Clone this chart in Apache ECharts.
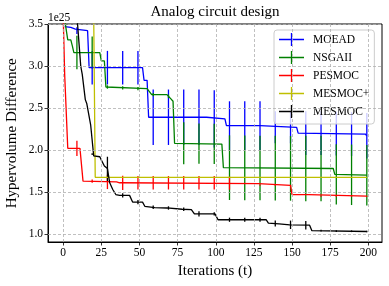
<!DOCTYPE html>
<html><head><meta charset="utf-8">
<script src="https://cdn.jsdelivr.net/npm/echarts@6/dist/echarts.min.js"></script>
<style>html,body{margin:0;padding:0;background:#fff}#c{width:389px;height:286px}</style>
</head><body><div id="c"></div>
<script>
// ---- data ----
const xTicks = [0, 25, 50, 75, 100, 125, 150, 175, 200];
const yTicks = [1.0, 1.5, 2.0, 2.5, 3.0, 3.5];
const names = ['MOEAD', 'NSGAII', 'PESMOC', 'MESMOC+', 'MESMOC'];
const errX = [9, 19, 29, 39, 49, 59, 69, 79, 89, 99, 109, 119, 129, 139, 149, 159, 169, 179, 189, 199];

const moeadX = [1, 5, 8, 9, 16, 17, 52, 53, 55, 56, 94, 95, 106, 107, 129, 130, 153, 154, 198, 199];
const moeadY = [3.47, 3.46, 3.44, 3.42, 3.42, 2.98, 2.98, 2.83, 2.83, 2.39, 2.39, 2.37, 2.37, 2.29, 2.29, 2.27, 2.27, 2.20, 2.19, 2.17];
const moeadM = [3.42, 2.98, 2.98, 2.98, 2.98, 2.39, 2.39, 2.39, 2.39, 2.37, 2.29, 2.29, 2.29, 2.27, 2.27, 2.20, 2.20, 2.195, 2.19, 2.17];
const moeadS = [0.04, 0.20, 0.20, 0.20, 0.20, 0.33, 0.33, 0.33, 0.33, 0.34, 0.29, 0.29, 0.29, 0.19, 0.19, 0.26, 0.26, 0.26, 0.26, 0.27];

const nsgaX = [1, 3, 5, 6, 7, 24, 25, 27, 28, 55, 56, 58, 68, 70, 72, 73, 104, 105, 177, 178, 199];
const nsgaY = [3.55, 3.31, 3.31, 3.24, 3.16, 3.16, 3.06, 3.06, 2.75, 2.73, 2.72, 2.66, 2.66, 2.62, 2.58, 2.08, 2.07, 1.79, 1.78, 1.71, 1.70];
const nsgaM = [3.16, 3.16, 2.75, 2.74, 2.73, 2.66, 2.64, 2.08, 2.077, 2.072, 1.79, 1.788, 1.786, 1.784, 1.782, 1.78, 1.78, 1.71, 1.705, 1.70];
const nsgaS = [0.20, 0.19, 0.02, 0.02, 0.02, 0.02, 0.02, 0.25, 0.24, 0.24, 0.385, 0.385, 0.385, 0.385, 0.385, 0.39, 0.39, 0.36, 0.36, 0.36];

const pesX = [0, 1, 2, 3, 11, 12, 13, 35, 37, 128, 129, 149, 150, 161, 162, 199];
const pesY = [3.6, 2.89, 2.89, 2.02, 2.02, 2.0, 1.63, 1.62, 1.61, 1.60, 1.58, 1.58, 1.47, 1.47, 1.45, 1.45];
const pesM = [2.02, 1.63, 1.62, 1.61, 1.61, 1.61, 1.61, 1.61, 1.61, 1.61, 1.605, 1.60, 1.58, 1.58, 1.58, 1.47, 1.45, 1.45, 1.45, 1.45];
const pesS = [0.09, 0.02, 0.085, 0.085, 0.08, 0.08, 0.08, 0.08, 0.08, 0.08, 0.078, 0.005, 0.005, 0.005, 0.005, 0.005, 0.005, 0.005, 0.005, 0.005];

const mpX = [0, 20, 21, 199];
const mpY = [3.6, 3.6, 1.675, 1.675];
const mpM = [3.6, 3.6, 1.675, 1.675, 1.675, 1.675, 1.675, 1.675, 1.675, 1.675, 1.675, 1.675, 1.675, 1.675, 1.675, 1.675, 1.675, 1.675, 1.675, 1.675];
const mpS = [0, 0, 0.003, 0.003, 0.003, 0.003, 0.003, 0.003, 0.003, 0.003, 0.003, 0.003, 0.003, 0.003, 0.003, 0.003, 0.003, 0.003, 0.003, 0.003];

const mesX = [9, 11.5, 12.5, 13.5, 14.5, 15.5, 18, 20, 24, 25, 27, 29, 30.5, 32.5, 34.5, 37, 43.5, 45.5, 52, 53.5, 60, 68, 78, 84, 86, 99.5, 101.5, 133, 134.5, 141.5, 148.5, 161.5, 163, 199];
const mesY = [3.6, 3.0, 2.9, 2.88, 2.6, 2.55, 2.3, 1.93, 1.92, 1.88, 1.81, 1.78, 1.61, 1.53, 1.47, 1.46, 1.46, 1.38, 1.38, 1.33, 1.315, 1.31, 1.295, 1.29, 1.24, 1.24, 1.17, 1.17, 1.13, 1.12, 1.11, 1.105, 1.04, 1.03];
const mesM = [3.6, 1.95, 1.77, 1.46, 1.38, 1.318, 1.31, 1.295, 1.24, 1.24, 1.17, 1.17, 1.17, 1.125, 1.11, 1.105, 1.04, 1.035, 1.033, 1.03];
const mesS = [0, 0.01, 0.15, 0.025, 0.025, 0.02, 0.02, 0.02, 0.03, 0.02, 0.025, 0.025, 0.025, 0.035, 0.05, 0.05, 0.01, 0.01, 0.01, 0.01];

// ---- build ----
const FONT = '"Liberation Serif", "Times New Roman", serif';
const colors = ['#0000ff', '#008000', '#ff0000', '#bfbf00', '#000000'];
const lines = [[moeadX, moeadY], [nsgaX, nsgaY], [pesX, pesY], [mpX, mpY], [mesX, mesY]];
const errs = [[moeadM, moeadS], [nsgaM, nsgaS], [pesM, pesS], [mpM, mpS], [mesM, mesS]];
const ICON = 'path://M0,5.85L25,5.85L25,7.15L0,7.15Z M11.85,0L13.15,0L13.15,13L11.85,13Z';

function pts(xs, ys) { return xs.map((x, i) => [x, ys[i]]); }
function bars(ms, ss) { return errX.map((x, i) => [x, ms[i], ss[i]]); }
function errRender(color) {
  return function (params, api) {
    const x = api.value(0), m = api.value(1), s = api.value(2);
    const cs = params.coordSys;
    const p1 = api.coord([x, m + s]), p2 = api.coord([x, m - s]);
    const top = Math.max(Math.min(p1[1], p2[1]), cs.y);
    const bot = Math.min(Math.max(p1[1], p2[1]), cs.y + cs.height);
    if (bot <= top) return null;
    return { type: 'line', shape: { x1: p1[0], y1: top, x2: p1[0], y2: bot },
      style: { stroke: color, lineWidth: 1.3 } };
  };
}

const series = [];
// grid lines
series.push({
  type: 'line', data: [], z: 1, silent: true,
  markLine: {
    silent: true, symbol: ['none', 'none'], label: { show: false }, animation: false,
    lineStyle: { color: '#b0b0b0', type: [3, 2], width: 0.8 },
    emphasis: { disabled: true },
    data: xTicks.map(v => ({ xAxis: v })).concat(yTicks.map(v => ({ yAxis: v })))
  }
});
names.forEach((n, i) => {
  series.push({
    type: 'line', name: n, data: pts(lines[i][0], lines[i][1]), symbol: 'none', z: 3,
    clip: true, lineStyle: { color: colors[i], width: 1.3 }, itemStyle: { color: colors[i] },
    emphasis: { disabled: true }, animation: false
  });
});
names.forEach((n, i) => {
  series.push({
    type: 'custom', name: n, data: bars(errs[i][0], errs[i][1]), z: 2, clip: true,
    encode: { x: 0, y: 1 }, renderItem: errRender(colors[i]), itemStyle: { color: colors[i] },
    silent: true, animation: false
  });
});

const chart = echarts.init(document.getElementById('c'), null, { renderer: 'canvas' });
chart.setOption({
  animation: false,
  backgroundColor: '#ffffff',
  grid: { left: 48, right: 7, top: 24, bottom: 44, show: true, borderColor: '#000', borderWidth: 1 },
  xAxis: {
    type: 'value', min: -9.95, max: 208.95,
    axisLine: { show: true, onZero: false, lineStyle: { color: '#000', width: 1 } },
    axisTick: { show: true, customValues: xTicks, length: 3.5, lineStyle: { color: '#000', width: 0.8 } },
    axisLabel: { customValues: xTicks, margin: 5, fontFamily: FONT, fontSize: 11.5, color: '#000' },
    splitLine: { show: false }
  },
  yAxis: {
    type: 'value', min: 0.905, max: 3.5,
    axisLine: { show: true, onZero: false, lineStyle: { color: '#000', width: 1 } },
    axisTick: { show: true, customValues: yTicks, length: 3.5, lineStyle: { color: '#000', width: 0.8 } },
    axisLabel: { customValues: yTicks, margin: 5, fontFamily: FONT, fontSize: 11.5, color: '#000',
      formatter: v => Number(v).toFixed(1) },
    splitLine: { show: false }
  },
  legend: {
    orient: 'vertical', left: 274, top: 30, itemWidth: 25, itemHeight: 13, itemGap: 5,
    padding: [3, 5, 6, 5], backgroundColor: 'rgba(255,255,255,0.8)', borderColor: '#cccccc',
    borderWidth: 1, borderRadius: 3, selectedMode: false,
    formatter: n => '{a|' + n + '}',
    textStyle: { fontFamily: FONT, fontSize: 11.5, color: '#000',
      rich: { a: { fontFamily: FONT, fontSize: 11.5, color: '#000', padding: [0, 0, 0, 4] } } },
    data: names.map(n => ({ name: n, icon: ICON }))
  },
  graphic: [
    { type: 'text', x: 215, y: 12.5, silent: true,
      style: { text: 'Analog circuit design', fontFamily: FONT, fontSize: 15, fill: '#000', align: 'center', verticalAlign: 'middle' } },
    { type: 'text', x: 48, y: 17.5, silent: true,
      style: { text: '1e25', fontFamily: FONT, fontSize: 11.5, fill: '#000', align: 'left', verticalAlign: 'middle' } },
    { type: 'text', x: 215, y: 271.5, silent: true,
      style: { text: 'Iterations (t)', fontFamily: FONT, fontSize: 15, fill: '#000', align: 'center', verticalAlign: 'middle' } },
    { type: 'text', x: 12.5, y: 133.3, rotation: Math.PI / 2, silent: true,
      style: { text: 'Hypervolume Difference', fontFamily: FONT, fontSize: 15, fill: '#000', align: 'center', verticalAlign: 'middle' } }
  ],
  series: series
});
</script>
</body></html>
